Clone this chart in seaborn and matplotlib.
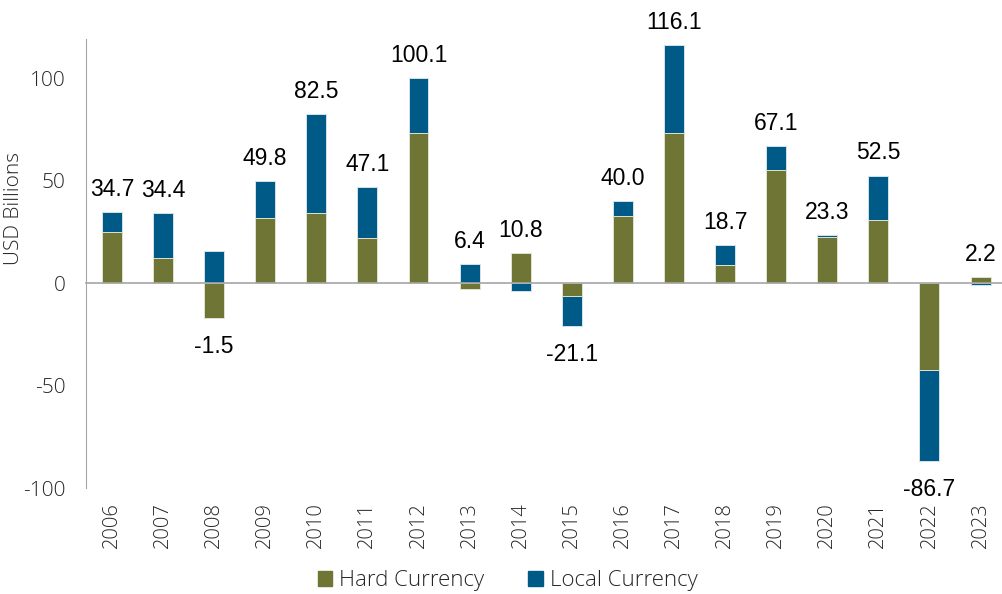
import numpy as np
import pandas as pd
import seaborn as sns
import matplotlib.pyplot as plt
from matplotlib.patches import Patch

# values (USD billions)
years = [str(y) for y in range(2006, 2024)]
hard = [25.0, 12.5, -17.1, 31.7, 34.0, 22.1, 73.5, -3.0, 14.8, -6.0,
        33.0, 73.5, 9.0, 55.4, 22.6, 30.6, -42.3, 3.0]
local = [9.7, 21.9, 15.6, 18.1, 48.5, 25.0, 26.6, 9.4, -4.0, -15.1,
         7.0, 42.6, 9.7, 11.7, 0.7, 21.9, -44.4, -0.8]
totals = [34.7, 34.4, -1.5, 49.8, 82.5, 47.1, 100.1, 6.4, 10.8, -21.1,
          40.0, 116.1, 18.7, 67.1, 23.3, 52.5, -86.7, 2.2]

HARD_C = '#6f7534'
LOCAL_C = '#005a87'
GREY = '#a6a6a6'
TXT = '#262626'
LABEL_FONT = ['Liberation Sans Narrow', 'Liberation Sans']

sns.set_style('white')
plt.rcParams['font.family'] = ['Open Sans', 'DejaVu Sans']
plt.rcParams['axes.unicode_minus'] = False

df = pd.DataFrame({'year': years, 'hard': hard, 'local': local})
# local is stacked on hard when both have the same sign
same = np.sign(df['hard']) == np.sign(df['local'])
df['local_end'] = np.where(same, df['hard'] + df['local'], df['local'])

fig = plt.figure(figsize=(10.03, 5.94), dpi=100)
ax = fig.add_axes([0.0861, 0.178, 0.917, 0.756])

sns.barplot(data=df, x='year', y='local_end', color=LOCAL_C, saturation=1,
            width=0.39, edgecolor='#d5e2ea', linewidth=0.7, ax=ax)
sns.barplot(data=df, x='year', y='hard', color=HARD_C, saturation=1,
            width=0.39, edgecolor='#dfe3d0', linewidth=0.7, ax=ax)

# total labels
for i, tot in enumerate(totals):
    if tot >= 0:
        y = max(df['hard'][i], df['local_end'][i], 0)
        ax.annotate(f'{tot:.1f}', (i, y), xytext=(0, 8), textcoords='offset points',
                    ha='center', va='bottom', fontsize=16.5, color='black',
                    family=LABEL_FONT)
    else:
        y = min(df['hard'][i], df['local_end'][i], 0)
        ax.annotate(f'{tot:.1f}', (i, y), xytext=(0, -12), textcoords='offset points',
                    ha='center', va='top', fontsize=16.5, color='black',
                    family=LABEL_FONT)

ax.set_xlim(-0.5, 17.5)
ax.set_ylim(-100, 119)
ax.set_yticks([-100, -50, 0, 50, 100])
ax.tick_params(axis='y', direction='out', length=5, color=GREY, pad=10,
               labelsize=15, labelcolor=TXT)
for t in ax.get_yticklabels():
    t.set_fontweight('light')

ax.spines['top'].set_visible(False)
ax.spines['right'].set_visible(False)
ax.spines['left'].set_color(GREY)
ax.spines['bottom'].set_position(('data', 0))
ax.spines['bottom'].set_color(GREY)
ax.spines['bottom'].set_linewidth(1.2)

# category boundary ticks on the zero line
ax.set_xticks(np.arange(0.5, 17.5, 1))
ax.set_xticklabels([])
ax.tick_params(axis='x', direction='out', length=5, color=GREY)
ax.set_xlabel('')

# year labels below the plot
sec = ax.secondary_xaxis('bottom')
sec.set_xticks(range(len(years)))
sec.set_xticklabels(years, rotation=90, fontweight='light')
sec.tick_params(length=0, pad=10, labelsize=14.5, labelcolor=TXT)
sec.spines['bottom'].set_visible(False)

ax.set_ylabel('USD Billions', fontsize=15, color=TXT, fontweight='light')
ax.yaxis.set_label_coords(-0.068, 0.624)

handles = [Patch(color=HARD_C, label='Hard Currency'),
           Patch(color=LOCAL_C, label='Local Currency')]
fig.legend(handles=handles, loc='center', bbox_to_anchor=(0.506, 0.022), ncol=2,
           frameon=False, labelcolor=TXT, handlelength=0.65,
           handleheight=0.65, handletextpad=0.3, columnspacing=2.0,
           prop={'family': ['Open Sans', 'DejaVu Sans'], 'weight': 'light', 'size': 16})

fig.savefig('out.png', dpi=100)
